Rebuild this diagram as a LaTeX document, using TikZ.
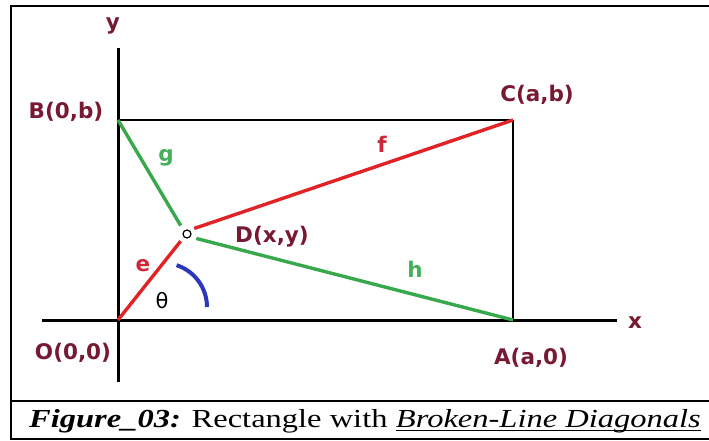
\documentclass[tikz,border=0pt]{standalone}
\usepackage{fontspec}
\setmainfont{Liberation Serif}
\newfontfamily\labfont{DejaVu Sans}
\newfontfamily\capfont[FakeStretch=1.25]{Liberation Serif}
\usetikzlibrary{calc}
\definecolor{labmaroon}{RGB}{120,25,50}
\definecolor{linered}{RGB}{225,35,40}
\definecolor{linegreen}{RGB}{55,168,75}
\definecolor{textgreen}{RGB}{70,175,90}
\definecolor{textred}{RGB}{205,40,55}
\definecolor{arcblue}{RGB}{45,55,190}
\begin{document}
\begin{tikzpicture}[x=1pt,y=-1pt,
  lab/.style={font={\labfont\bfseries\fontsize{21.5}{24}\selectfont}, text=labmaroon, inner sep=0, anchor=base},
  redl/.style={draw=linered, line width=3.4},
  greenl/.style={draw=linegreen, line width=3.4},
  axis/.style={draw=black, line width=3},
  frameline/.style={draw=black, line width=2}]
\useasboundingbox (0,0) rectangle (709,441);
% frame
\draw[frameline] (11,6) rectangle (716,439);
\draw[frameline] (11,401) -- (716,401);
% axes
\coordinate (ytop) at (118,48);
\coordinate (ybot) at (118,382);
\coordinate (xl) at (42,320);
\coordinate (xr) at (617,320);
\draw[axis] (ytop) -- (ybot);
\draw[axis] (xl) -- (xr);
% points
\coordinate (O) at (118,320);
\coordinate (B) at (118,120);
\coordinate (C) at (513,120);
\coordinate (A) at (513,320);
\node[circle, draw, line width=1.2, minimum size=8, inner sep=0] (D) at (187,234) {};
% rectangle
\draw[line width=2.6] (B) -- (C);
\draw[line width=1.5] (C) -- (A);
% broken diagonals
\draw[redl, shorten >=5] (O) -- (D.225);
\draw[redl, shorten <=5] (D.58) -- (C);
\draw[greenl, shorten >=6] (B) -- (D.135);
\draw[greenl, shorten <=6] (D.-40) -- (A);
% angle arc
\draw[draw=arcblue, line width=4] (176.6,265.2) arc[start angle=-72, end angle=0, radius=44];
% labels
\node[lab] (ly) at (113,30) {y};
\node[lab] (lB) at (66,118) {B(0,b)};
\node[lab] (lC) at (537,102) {C(a,b)};
\node[lab] (lD) at (272,242) {D(x,y)};
\node[lab] (lO) at (73,359) {O(0,0)};
\node[lab] (lA) at (531,364) {A(a,0)};
\node[lab] (lx) at (635,328) {x};
\node[lab, text=textgreen] (lg) at (166,161) {g};
\node[lab, text=textred] (lf) at (382,153) {f};
\node[lab, text=textred] (le) at (143,271) {e};
\node[lab, text=textgreen] (lh) at (415,277) {h};
\node[font={\labfont\fontsize{21}{24}\selectfont}, inner sep=0, anchor=base] (lt) at (162,308) {θ};
% caption
\node[font={\capfont\fontsize{26}{30}\selectfont}, inner sep=0, anchor=base west] (cap1) at (29,427) {\textbf{\textit{Figure\_03:}} Rectangle with};
\node[font={\capfont\fontsize{26}{30}\selectfont\itshape}, inner sep=0, anchor=base west] (cap2) at ($(cap1.base east)+(8,0)$) {Broken-Line Diagonals};
\draw[line width=1.6] ($(cap2.base west)+(0,3.5)$) -- ($(cap2.base east)+(0,3.5)$);
\end{tikzpicture}
\end{document}
